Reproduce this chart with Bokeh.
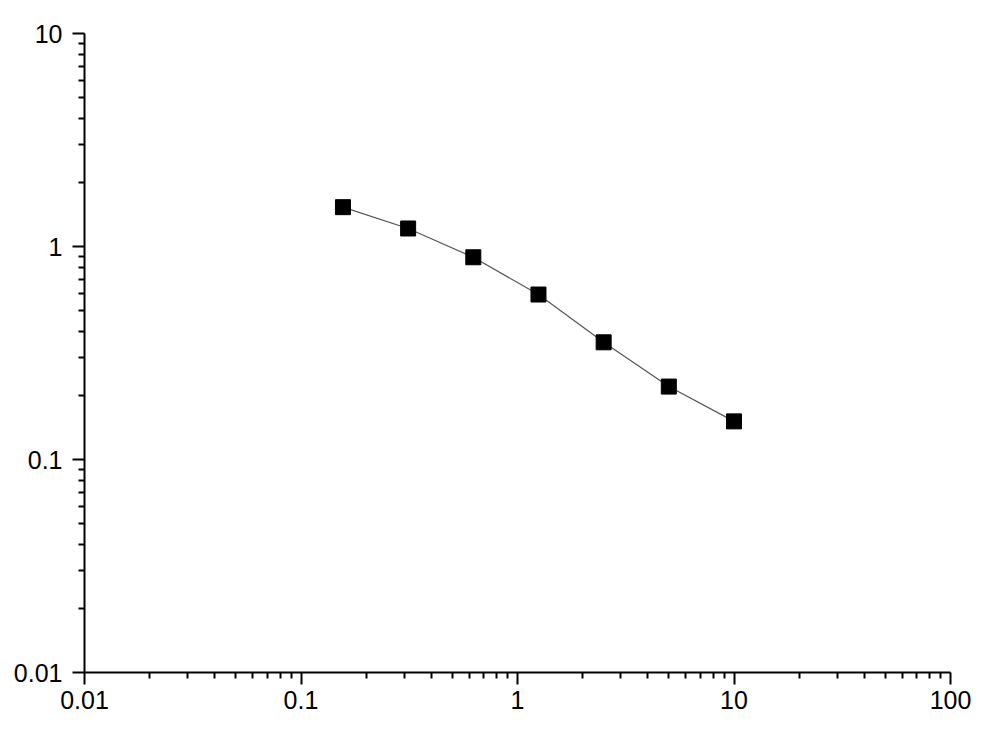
#! /usr/bin/python3

import bokeh.plotting as bkh
from bokeh.models import FixedTicker, CustomJSTickFormatter
from bokeh.embed import file_html
from bokeh.resources import INLINE

# concentration series (doubling dilutions) and measured response
conc = [0.15625, 0.3125, 0.625, 1.25, 2.5, 5, 10]
response = [1.53, 1.215, 0.89, 0.595, 0.355, 0.22, 0.151]

major_ticks = [0.01, 0.1, 1, 10, 100]
minor_ticks = [m * d for d in [0.01, 0.1, 1, 10] for m in range(2, 10)]
y_major = [0.01, 0.1, 1, 10]
y_minor = [m * d for d in [0.01, 0.1, 1] for m in range(2, 10)]

p = bkh.figure(x_axis_type='log', y_axis_type='log',
	x_range=(0.01, 100), y_range=(0.01, 10),
	width=991, height=725,
	min_border_left=84, min_border_right=41,
	min_border_top=33, min_border_bottom=53,
	output_backend='svg', toolbar_location=None)

p.line(conc, response, line_color='#555555', line_width=1.2)
p.scatter(conc, response, marker='square', size=15, fill_color='black', line_color='black')

p.grid.visible = False
p.outline_line_color = None
p.background_fill_color = 'white'
p.border_fill_color = 'white'

fmt = CustomJSTickFormatter(code="return parseFloat(tick.toPrecision(6)).toString();")
p.xaxis.ticker = FixedTicker(ticks=major_ticks, minor_ticks=minor_ticks)
p.yaxis.ticker = FixedTicker(ticks=y_major, minor_ticks=y_minor)
p.axis.formatter = fmt
p.axis.axis_line_width = 2
p.axis.axis_line_color = 'black'
p.axis.major_tick_line_width = 2
p.axis.minor_tick_line_width = 2
p.axis.major_tick_line_color = 'black'
p.axis.minor_tick_line_color = 'black'
p.axis.major_tick_out = 12
p.axis.major_tick_in = 0
p.axis.minor_tick_out = 6
p.axis.minor_tick_in = 0
p.axis.major_label_text_font = 'Liberation Sans'
p.axis.major_label_text_font_size = '25px'
p.axis.major_label_text_color = 'black'
p.xaxis.major_label_standoff = 6
p.yaxis.major_label_standoff = 10

open("out.html", "w").write(file_html(p, INLINE))
